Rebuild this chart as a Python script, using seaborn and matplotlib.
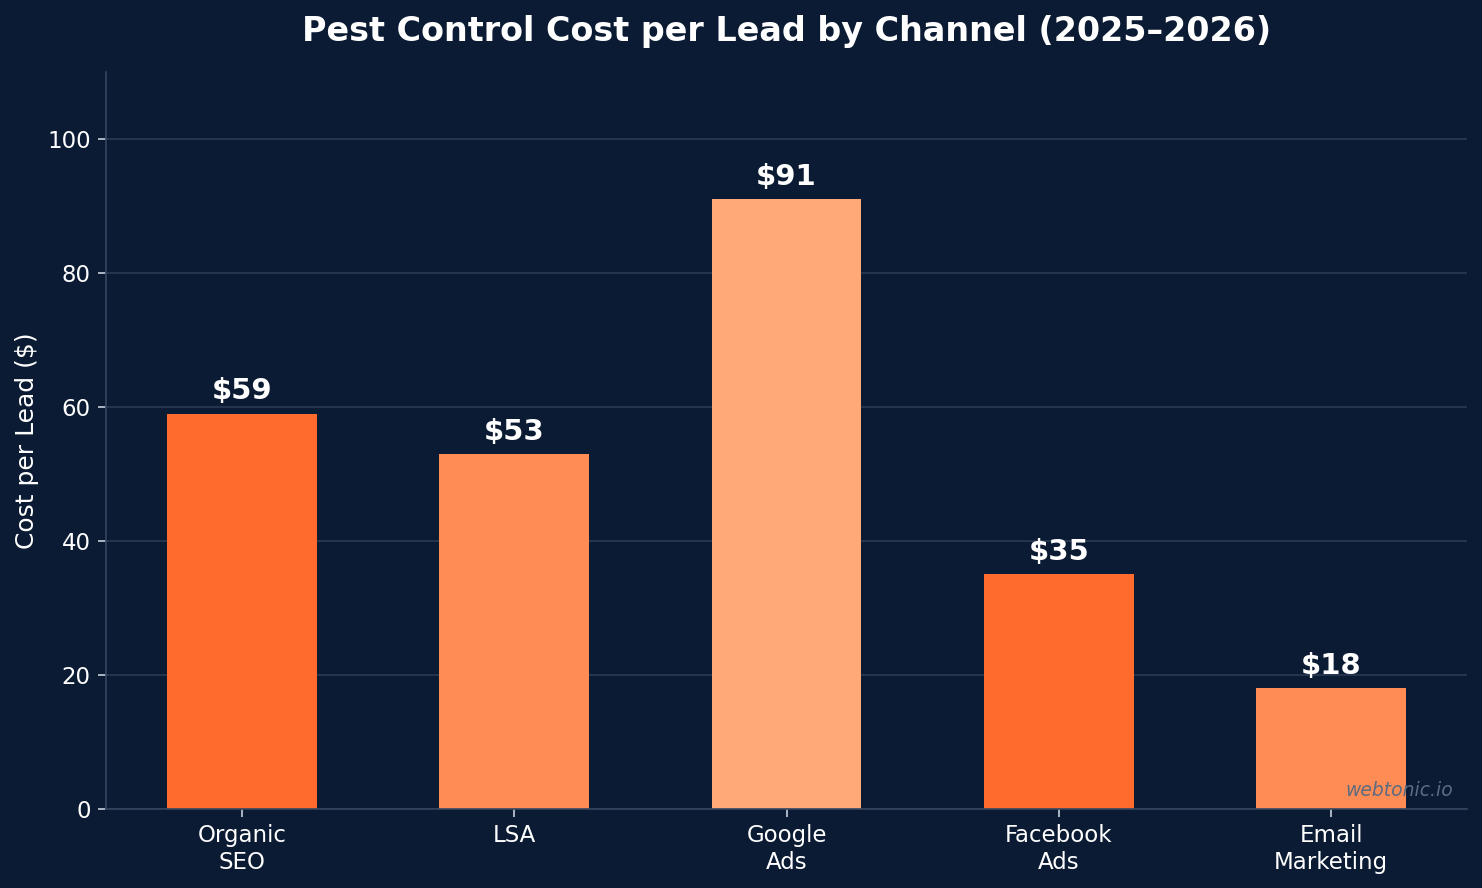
import matplotlib
matplotlib.use("Agg")
import matplotlib.pyplot as plt
import seaborn as sns
import pandas as pd

channels = ["Organic\nSEO", "LSA", "Google\nAds", "Facebook\nAds", "Email\nMarketing"]
cost_per_lead = [59, 53, 91, 35, 18]
bar_colors = ["#FF6B2C", "#FF8C55", "#FFA878", "#FF6B2C", "#FF8C55"]

BG = "#0B1B33"
GRID = "#2A3A52"
SPINE = "#334660"
TXT = "#FFFFFF"

sns.set_theme(style="dark")
plt.rcParams["font.family"] = ["DejaVu Sans"]

df = pd.DataFrame({"channel": channels, "cpl": cost_per_lead})

fig, ax = plt.subplots(figsize=(14.82, 8.88), dpi=100)
fig.patch.set_facecolor(BG)
ax.set_facecolor(BG)

sns.barplot(data=df, x="channel", y="cpl", hue="channel", palette=bar_colors,
            width=0.55, legend=False, ax=ax, saturation=1, linewidth=0, edgecolor="none")

ax.set_ylim(0, 110)
ax.set_yticks([0, 20, 40, 60, 80, 100])
ax.grid(axis="y", color=GRID, linewidth=1.2)
ax.grid(axis="x", visible=False)
ax.set_axisbelow(True)

for s in ["top", "right"]:
    ax.spines[s].set_visible(False)
for s in ["left", "bottom"]:
    ax.spines[s].set_color(SPINE)
    ax.spines[s].set_linewidth(1.2)

ax.tick_params(axis="both", colors="#C8D0DC", labelcolor=TXT, labelsize=16.5,
               length=6, width=1.2, pad=5, bottom=True, left=True)
ax.set_xlabel("")
ax.set_ylabel("Cost per Lead ($)", color=TXT, fontsize=18, labelpad=6)
ax.set_title("Pest Control Cost per Lead by Channel (2025\u20132026)",
             color=TXT, fontsize=24, fontweight="bold", pad=22)

for i, v in enumerate(cost_per_lead):
    ax.annotate(f"${v}", (i, v), xytext=(0, 6), textcoords="offset points",
                ha="center", va="bottom", color=TXT, fontsize=21, fontweight="bold")

ax.text(0.99, 0.012, "webtonic.io", transform=ax.transAxes, ha="right", va="bottom",
        color="#5A6B82", fontsize=13.5, fontstyle="italic")

fig.subplots_adjust(left=0.0715, right=0.99, top=0.919, bottom=0.089)
fig.savefig("out.png", dpi=100, facecolor=BG)
